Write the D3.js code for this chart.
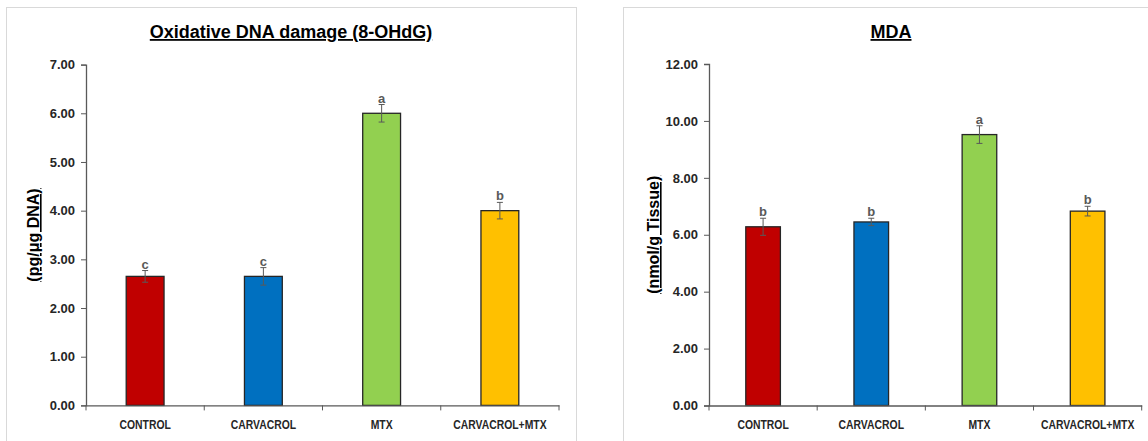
<!DOCTYPE html>
<html>
<head>
<meta charset="utf-8">
<script src="https://cdn.jsdelivr.net/npm/d3@7"></script>
<style>
  body { margin: 0; background: #fff; }
  svg text { font-family: "Liberation Sans Narrow", "Arial Narrow", "Liberation Sans", sans-serif; }
</style>
</head>
<body>
<svg id="chart" width="1148" height="441"></svg>
<script>
var categories = ["CONTROL", "CARVACROL", "MTX", "CARVACROL+MTX"];
var barColors = ["#C00000", "#0070C0", "#92D050", "#FFC000"];

var dnaValues = [2.65, 2.65, 6.00, 4.00];
var dnaErrors = [0.12, 0.18, 0.18, 0.17];
var dnaLetters = ["c", "c", "a", "b"];
var dnaTicks = [0, 1, 2, 3, 4, 5, 6, 7];

var mdaValues = [6.28, 6.45, 9.52, 6.83];
var mdaErrors = [0.30, 0.13, 0.31, 0.17];
var mdaLetters = ["b", "b", "a", "b"];
var mdaTicks = [0, 2, 4, 6, 8, 10, 12];

var svg = d3.select("#chart");

function drawPanel(p) {
  // chart frame
  svg.append("rect")
      .attr("x", p.frame[0] + 0.5).attr("y", p.frame[1] + 0.5)
      .attr("width", p.frame[2]).attr("height", p.frame[3])
      .attr("fill", "none").attr("stroke", "#d9d9d9");

  var x = d3.scaleBand().domain(categories).range([p.left, p.right]).paddingInner(0).paddingOuter(0);
  var y = d3.scaleLinear().domain([0, d3.max(p.ticks)]).range([p.bottom, p.top]);
  var bw = x.bandwidth() * 0.32;

  var g = svg.append("g");

  // y axis
  var ya = g.append("g")
      .attr("transform", "translate(" + p.left + ",0)")
      .call(d3.axisLeft(y).tickValues(p.ticks).tickFormat(d3.format(".2f")).tickSize(5).tickPadding(6));
  ya.select(".domain").attr("stroke", "#595959").attr("stroke-width", 1.3);
  ya.selectAll(".tick line").attr("stroke", "#595959");
  ya.selectAll(".tick text").attr("fill", "#262626").attr("font-size", 13).attr("font-weight", "bold");

  // bars
  g.selectAll(".bar").data(p.values).enter().append("rect")
      .attr("x", function(d, i) { return x(categories[i]) + (x.bandwidth() - bw) / 2; })
      .attr("y", function(d) { return y(d); })
      .attr("width", bw)
      .attr("height", function(d) { return y(0) - y(d); })
      .attr("fill", function(d, i) { return barColors[i]; })
      .attr("stroke", "#262626").attr("stroke-width", 1.3);

  // error bars
  var cx = function(i) { return x(categories[i]) + x.bandwidth() / 2; };
  var eb = g.selectAll(".err").data(p.values).enter().append("g").attr("stroke", "#595959").attr("stroke-width", 1);
  eb.append("line")
      .attr("x1", function(d, i) { return cx(i); }).attr("x2", function(d, i) { return cx(i); })
      .attr("y1", function(d, i) { return y(d + p.errors[i]); })
      .attr("y2", function(d, i) { return y(d - p.errors[i]); });
  [1, -1].forEach(function(s) {
    eb.append("line")
        .attr("x1", function(d, i) { return cx(i) - 3; }).attr("x2", function(d, i) { return cx(i) + 3; })
        .attr("y1", function(d, i) { return y(d + s * p.errors[i]); })
        .attr("y2", function(d, i) { return y(d + s * p.errors[i]); });
  });

  // significance letters
  g.selectAll(".lt").data(p.values).enter().append("text")
      .attr("x", function(d, i) { return cx(i); })
      .attr("y", function(d, i) { return y(d + p.errors[i]) - 2; })
      .attr("text-anchor", "middle").attr("font-size", 13).attr("font-weight", "bold")
      .attr("fill", "#595959")
      .text(function(d, i) { return p.letters[i]; });

  // x axis (labels squeezed horizontally, the original uses a narrow font)
  var xa = g.append("g")
      .attr("transform", "translate(0," + p.bottom + ")")
      .call(d3.axisBottom(x).tickSize(0).tickPadding(14));
  xa.select(".domain").attr("stroke", "#595959").attr("stroke-width", 1.3);
  xa.selectAll(".tick text").attr("fill", "#262626").attr("font-size", 13).attr("font-weight", "bold")
      .attr("transform", "scale(0.8,1)");
  xa.selectAll(".sep").data(d3.range(categories.length + 1)).enter().append("line")
      .attr("x1", function(i) { return p.left + i * x.bandwidth(); })
      .attr("x2", function(i) { return p.left + i * x.bandwidth(); })
      .attr("y1", 0).attr("y2", 5)
      .attr("stroke", "#595959");

  // title
  g.append("text")
      .attr("x", p.titleX).attr("y", 38)
      .attr("text-anchor", "middle").attr("font-size", 18).attr("font-weight", "bold")
      .attr("text-decoration", "underline").attr("fill", "#000")
      .text(p.title);

  // y label
  g.append("text")
      .attr("transform", "translate(" + p.labelX + "," + ((p.top + p.bottom) / 2) + ") rotate(-90)")
      .attr("text-anchor", "middle").attr("font-size", 16).attr("font-weight", "bold")
      .attr("text-decoration", "underline").attr("fill", "#000")
      .text(p.label);
}

drawPanel({
  frame: [6, 7, 570, 440],
  left: 86, right: 559, top: 64.6, bottom: 405.4,
  values: dnaValues, errors: dnaErrors, letters: dnaLetters, ticks: dnaTicks,
  title: "Oxidative DNA damage (8-OHdG)", titleX: 291,
  label: "(pg/μg DNA)", labelX: 39
});

drawPanel({
  frame: [623, 7, 540, 440],
  left: 709, right: 1141.7, top: 64, bottom: 405.5,
  values: mdaValues, errors: mdaErrors, letters: mdaLetters, ticks: mdaTicks,
  title: "MDA", titleX: 891,
  label: "(nmol/g Tissue)", labelX: 659
});
</script>
</body>
</html>
